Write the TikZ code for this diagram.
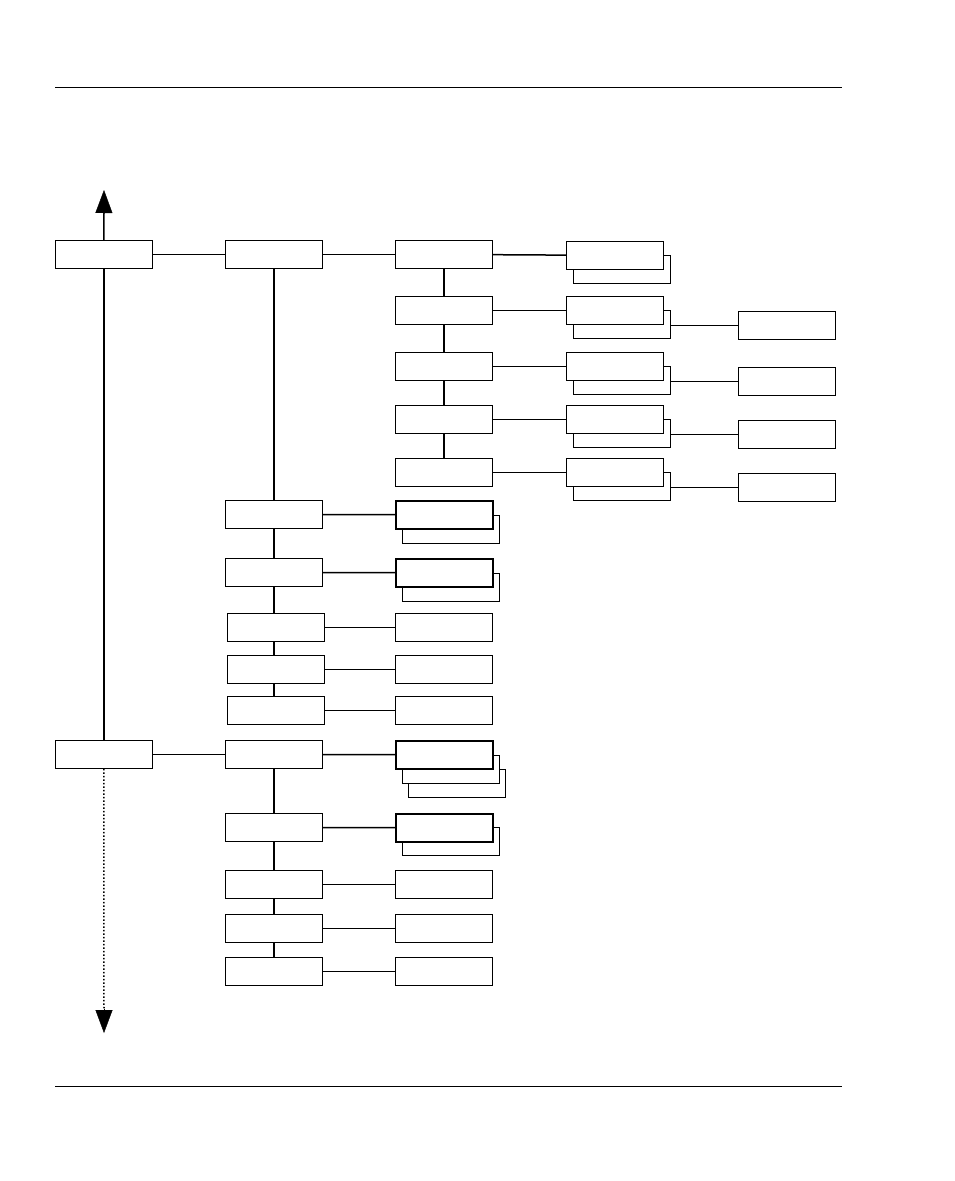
\documentclass[tikz,border=0pt]{standalone}
\usepackage{tikz}
\usetikzlibrary{calc,arrows.meta}
\tikzset{>=Triangle}

\begin{document}
\begin{tikzpicture}[x=1pt,y=-1pt,
    box/.style={draw, fill=white, line width=0.8pt, minimum width=97pt, minimum height=28pt,
                anchor=north west, inner sep=0pt},
    boldbox/.style={box, line width=1.6pt},
    link/.style={line width=1.5pt}]
    \useasboundingbox (0,0) rectangle (954,1181);

    % page rules
    \draw[line width=0.8pt] (55,87) -- (842,87);
    \draw[line width=0.8pt] (55,1086) -- (842,1086);

    % column 1
    \node[box] (a1) at (55,240) {};
    \node[box] (a2) at (55,740) {};
    \coordinate (top) at (104,190);
    \coordinate (bottom) at (104,1033);
    \draw[-{Triangle[length=23pt,width=17pt]}] ($(a1.north)+(0,-26)$) -- (top) ;
    \draw[link] (top) ++(0,23) -- (a1.north);
    \draw[link] (a1) -- (a2);
    \draw[dotted, line width=1.5pt] (a2.south) -- ($(bottom)+(0,-23)$);
    \draw[-{Triangle[length=23pt,width=17pt]}] ($(bottom)+(0,-24)$) -- (bottom);

    % column 2
    \node[box] (b1) at (225,240) {};
    \node[box] (b2) at (225,500) {};
    \node[box] (b3) at (225,558) {};
    \node[box] (b4) at (227,613) {};
    \node[box] (b5) at (227,655) {};
    \node[box] (b6) at (227,696) {};
    \node[box] (c1) at (225,740) {};
    \node[box] (c2) at (225,813) {};
    \node[box] (c3) at (225,870) {};
    \node[box] (c4) at (225,914) {};
    \node[box] (c5) at (225,957) {};
    \draw[link] (a1) -- (b1);
    \draw[link] (a2) -- (c1);
    \draw[link] (b1.south) -- (b2.north);
    \draw[link] (b2) -- (b3);
    \draw[link] (b3.south) -- (b3.south |- b4.north);
    \draw[link] (b4.south -| b3.south) -- (b3.south |- b5.north);
    \draw[link] (b5.south -| b3.south) -- (b3.south |- b6.north);
    \draw[link] (c1) -- (c2);
    \draw[link] (c2) -- (c3);
    \draw[link] (c3) -- (c4);
    \draw[link] (c4) -- (c5);

    % column 3
    \node[box] (d1) at (395,240) {};
    \node[box] (d2) at (395,296) {};
    \node[box] (d3) at (395,352) {};
    \node[box] (d4) at (395,405) {};
    \node[box] (d5) at (395,458) {};
    \draw[link] (b1) -- (d1);
    \draw[link] (d1) -- (d2);
    \draw[link] (d2) -- (d3);
    \draw[link] (d3) -- (d4);
    \draw[link] (d4) -- (d5);

    \node[box] (e1s) at (402,515) {};
    \node[boldbox] (e1) at (395,500) {};
    \node[box] (e2s) at (402,573) {};
    \node[boldbox] (e2) at (395,558) {};
    \node[box] (e3) at (395,613) {};
    \node[box] (e4) at (395,655) {};
    \node[box] (e5) at (395,696) {};
    \draw[link] (b2) -- (e1);
    \draw[link] (b3) -- (e2);
    \draw[link] (b4) -- (e3);
    \draw[link] (b5) -- (e4);
    \draw[link] (b6) -- (e5);

    \node[box] (f1t) at (408,769) {};
    \node[box] (f1s) at (402,755) {};
    \node[boldbox] (f1) at (395,740) {};
    \node[box] (f2s) at (402,827) {};
    \node[boldbox] (f2) at (395,813) {};
    \node[box] (f3) at (395,870) {};
    \node[box] (f4) at (395,914) {};
    \node[box] (f5) at (395,957) {};
    \draw[link] (c1) -- (f1);
    \draw[link] (c2) -- (f2);
    \draw[link] (c3) -- (f3);
    \draw[link] (c4) -- (f4);
    \draw[link] (c5) -- (f5);

    % column 4
    \foreach \n/\y in {1/241, 2/296, 3/352, 4/405, 5/458} {
        \node[box] (g\n s) at (573,\y+14) {};
        \node[box] (g\n) at (566,\y) {};
        \draw[link] (d\n) -- (g\n);
    }

    % column 5
    \foreach \n/\y in {2/311, 3/367, 4/420, 5/473} {
        \node[box] (h\n) at (738,\y) {};
        \draw[link] (g\n s.east |- h\n.west) -- (h\n.west);
    }
\end{tikzpicture}
\end{document}
